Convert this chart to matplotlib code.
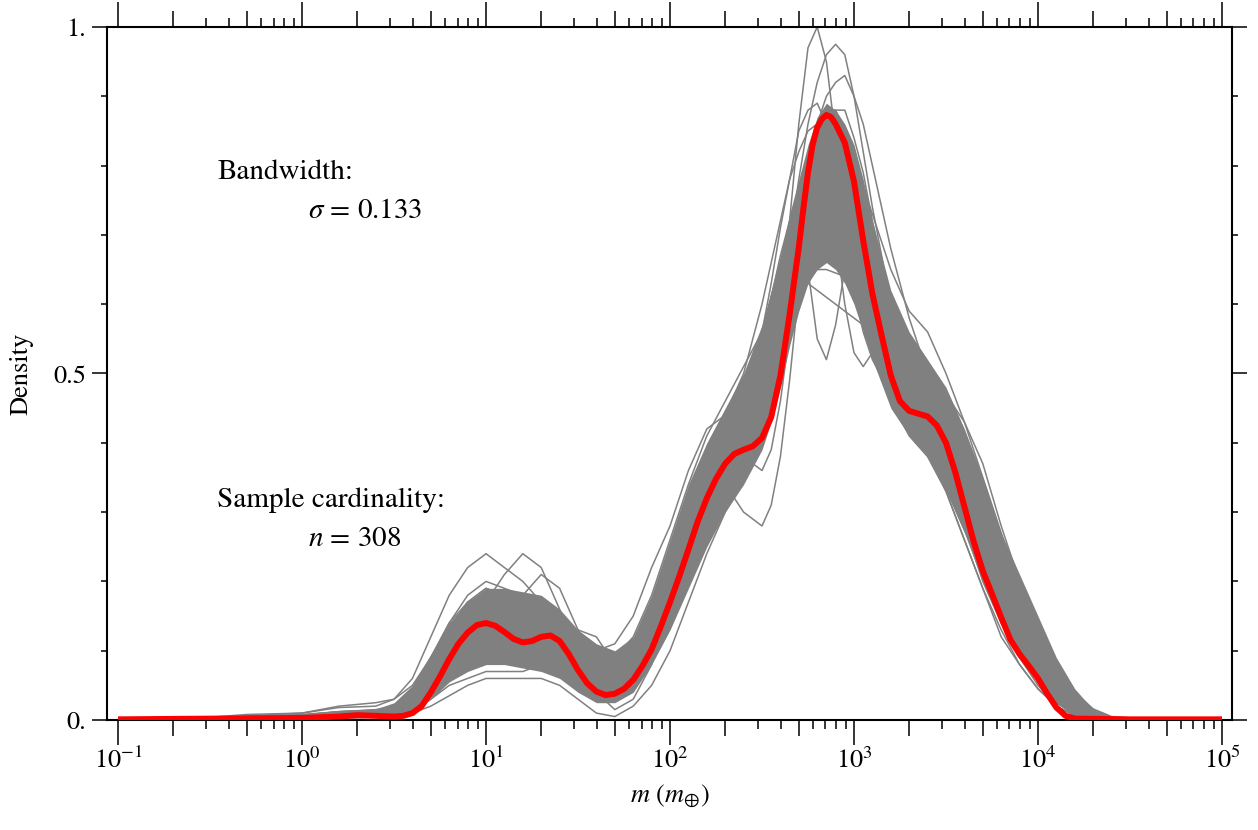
import numpy as np
import matplotlib
matplotlib.use("Agg")
import matplotlib.pyplot as plt
from matplotlib.ticker import FixedLocator, FuncFormatter

plt.rcParams['font.family'] = ['STIXGeneral', 'DejaVu Serif']
plt.rcParams['mathtext.fontset'] = 'stix'

# grid of log10(m) used for the resampled (grey) curves
log_m_grid = [-1.0, -0.5, -0.3, 0.0, 0.2, 0.4, 0.5, 0.6, 0.7, 0.8, 0.9, 1.0,
              1.1, 1.2, 1.3, 1.4, 1.5, 1.6, 1.7, 1.8, 1.9, 2.0, 2.1, 2.2,
              2.3, 2.4, 2.5,
              2.55, 2.6, 2.65, 2.7, 2.75, 2.8, 2.85, 2.9, 2.95, 3.0, 3.05, 3.1,
              3.2, 3.3, 3.4, 3.5, 3.6, 3.7, 3.8, 3.9, 4.0, 4.1, 4.2, 4.3, 4.4,
              4.6, 5.0]

# densest part of the grey bundle (lower / upper edge)
band_lower = [0, .001, .001, .002, .003, .004, .006, .012, .03, .055, .07, .08,
              .08, .075, .07, .06, .04, .025, .025, .04, .08, .13, .19, .25,
              .30, .34, .39,
              .43, .48, .54, .59, .63, .65, .66, .65, .63, .60, .56, .52,
              .45, .41, .38, .33, .27, .20, .14, .09, .055, .025, .008, .002, 0,
              0, 0]
band_upper = [.001, .005, .007, .009, .014, .016, .025, .05, .095, .14, .17, .19,
              .19, .185, .18, .16, .13, .11, .10, .12, .18, .26, .34, .40,
              .45, .50, .57,
              .62, .67, .73, .78, .83, .87, .89, .88, .86, .83, .78, .72,
              .62, .56, .52, .48, .42, .35, .27, .21, .15, .09, .045, .015, .004,
              0, 0]

# individual bootstrap density curves (grey)
boot_curves = [
    [0, .002, .003, .004, .006, .008, .012, .025, .06, .10, .13, .14, .13, .12, .12, .10, .07, .05, .05, .08, .13, .19, .26, .32, .36, .40, .46,
     .52, .60, .72, .86, .97, 1.0, .95, .84, .72, .62, .56, .52,
     .47, .44, .41, .36, .28, .20, .14, .09, .05, .02, .006, .002, 0, 0, 0],
    [0, .001, .002, .004, .008, .01, .015, .03, .07, .12, .16, .17, .15, .13, .12, .10, .08, .06, .06, .09, .14, .20, .25, .29, .32, .36, .45,
     .52, .60, .69, .78, .86, .92, .96, .975, .96, .90, .82, .74,
     .60, .52, .47, .41, .33, .25, .18, .12, .07, .035, .014, .004, .001, 0, 0],
    [0, .002, .004, .006, .01, .012, .02, .04, .08, .13, .17, .19, .18, .16, .14, .11, .08, .06, .07, .10, .16, .23, .30, .35, .38, .42, .50,
     .56, .62, .68, .75, .81, .86, .90, .92, .93, .90, .86, .80,
     .68, .58, .50, .45, .38, .30, .22, .15, .10, .06, .03, .012, .004, 0, 0],
    [0, .001, .002, .003, .005, .006, .008, .015, .04, .08, .11, .12, .11, .10, .10, .09, .06, .04, .04, .07, .12, .19, .27, .33, .34, .30, .28,
     .31, .38, .49, .62, .74, .82, .85, .84, .80, .74, .67, .60,
     .50, .45, .42, .37, .29, .21, .15, .10, .06, .025, .008, .002, 0, 0, 0],
    [0, .002, .003, .005, .008, .01, .015, .03, .07, .12, .15, .16, .15, .14, .13, .11, .08, .05, .05, .08, .14, .22, .30, .37, .42, .47, .55,
     .61, .67, .72, .72, .65, .55, .52, .57, .65, .71, .72, .69,
     .57, .48, .43, .39, .32, .24, .17, .11, .07, .035, .012, .003, .001, 0, 0],
    [0, .003, .005, .008, .012, .014, .02, .045, .09, .14, .18, .20, .19, .18, .16, .13, .10, .08, .08, .11, .17, .24, .31, .37, .42, .47, .53,
     .56, .59, .61, .63, .64, .65, .65, .645, .64, .62, .60, .58,
     .52, .48, .45, .41, .35, .28, .21, .15, .10, .06, .03, .012, .004, .001, 0],
    [0, .004, .008, .01, .018, .02, .03, .06, .12, .18, .22, .24, .22, .20, .17, .13, .09, .06, .06, .09, .15, .22, .29, .35, .40, .45, .52,
     .57, .62, .67, .72, .76, .78, .79, .785, .77, .75, .72, .67,
     .55, .49, .45, .41, .34, .26, .19, .13, .08, .04, .016, .005, .001, 0, 0],
    [0, .001, .002, .003, .006, .008, .01, .02, .05, .09, .13, .17, .21, .24, .22, .16, .09, .04, .015, .03, .08, .16, .25, .32, .37, .40, .45,
     .49, .55, .62, .70, .77, .82, .85, .86, .85, .80, .74, .67,
     .56, .49, .46, .42, .36, .27, .19, .13, .08, .04, .015, .004, .001, 0, 0],
    [0, .001, .001, .002, .003, .004, .006, .012, .03, .05, .06, .07, .07, .07, .08, .10, .13, .12, .08, .09, .14, .21, .28, .34, .38, .42, .48,
     .52, .58, .65, .72, .79, .84, .86, .865, .84, .79, .72, .65,
     .55, .49, .46, .40, .32, .24, .17, .11, .07, .035, .012, .003, .001, 0, 0],
    [0, .001, .002, .003, .005, .006, .01, .02, .05, .09, .12, .13, .12, .11, .11, .10, .07, .04, .03, .05, .09, .15, .22, .28, .33, .37, .43,
     .47, .52, .58, .64, .70, .76, .80, .82, .82, .80, .77, .73,
     .65, .59, .56, .50, .43, .35, .27, .19, .13, .08, .04, .016, .005, .001, 0],
    [0, .003, .006, .01, .02, .025, .03, .05, .09, .14, .17, .18, .16, .14, .13, .12, .11, .10, .11, .15, .22, .28, .36, .42, .44, .50, .60,
     .66, .72, .78, .82, .85, .86, .85, .82, .77, .70, .63, .57,
     .48, .43, .39, .33, .26, .19, .12, .08, .045, .02, .007, .002, 0, 0, 0],
    [0, .002, .004, .006, .01, .012, .016, .035, .075, .12, .15, .16, .15, .14, .14, .12, .09, .06, .05, .07, .12, .19, .27, .34, .39, .44, .52,
     .57, .62, .66, .70, .72, .74, .745, .74, .73, .70, .66, .62,
     .54, .48, .44, .40, .33, .26, .19, .13, .085, .045, .02, .006, .001, 0, 0],
    [0, .001, .002, .003, .005, .007, .01, .02, .045, .08, .11, .12, .11, .10, .11, .11, .08, .05, .04, .06, .11, .18, .26, .33, .38, .41, .48,
     .54, .62, .70, .76, .79, .80, .79, .76, .71, .66, .60, .55,
     .47, .43, .40, .36, .29, .22, .16, .11, .07, .035, .012, .003, 0, 0, 0],
    [0, .002, .003, .005, .008, .01, .014, .03, .065, .11, .14, .15, .14, .13, .12, .10, .07, .045, .04, .07, .12, .19, .27, .34, .40, .46, .56,
     .63, .71, .78, .85, .88, .89, .86, .81, .74, .66, .60, .54,
     .46, .41, .38, .33, .26, .19, .13, .08, .045, .02, .006, .001, 0, 0, 0],
    [0, .001, .001, .002, .003, .004, .005, .01, .02, .035, .05, .06, .06, .06, .06, .05, .03, .01, .005, .02, .05, .10, .17, .24, .30, .35, .42,
     .48, .55, .62, .70, .77, .82, .86, .88, .88, .84, .79, .72,
     .60, .52, .48, .44, .37, .29, .21, .14, .09, .05, .02, .006, .001, 0, 0],
    [0, .002, .003, .005, .008, .01, .014, .03, .065, .11, .14, .15, .14, .13, .13, .11, .08, .06, .06, .08, .13, .20, .27, .33, .37, .41, .48,
     .53, .58, .64, .70, .75, .80, .82, .825, .82, .78, .73, .68,
     .58, .52, .50, .47, .43, .37, .28, .20, .14, .08, .04, .015, .004, .001, 0],
    [0, .002, .003, .005, .008, .01, .013, .028, .06, .10, .13, .14, .13, .12, .12, .10, .08, .06, .05, .07, .11, .17, .24, .30, .35, .40, .47,
     .52, .56, .60, .64, .67, .69, .70, .70, .69, .67, .64, .60,
     .52, .46, .42, .38, .31, .24, .18, .12, .08, .04, .015, .004, .001, 0, 0],
    [0, .002, .003, .005, .008, .01, .014, .03, .06, .10, .13, .15, .16, .18, .21, .19, .13, .07, .04, .06, .12, .20, .28, .35, .40, .44, .50,
     .55, .60, .66, .72, .78, .82, .84, .84, .82, .77, .70, .63,
     .52, .47, .44, .40, .33, .25, .18, .12, .075, .04, .015, .004, .001, 0, 0],
    [0, .002, .003, .004, .006, .008, .012, .025, .055, .09, .12, .13, .12, .11, .11, .10, .08, .06, .05, .08, .13, .20, .28, .35, .40, .45, .52,
     .58, .64, .70, .75, .79, .80, .77, .70, .60, .53, .51, .53,
     .55, .50, .44, .38, .30, .22, .15, .10, .06, .03, .01, .003, 0, 0, 0],
    [0, .001, .002, .003, .005, .007, .01, .02, .05, .09, .12, .13, .12, .11, .11, .10, .07, .05, .05, .08, .14, .22, .30, .37, .41, .38, .36,
     .39, .46, .56, .67, .77, .84, .88, .88, .85, .78, .70, .62,
     .50, .45, .42, .37, .30, .22, .16, .10, .06, .025, .008, .002, 0, 0, 0],
    [0, .002, .004, .007, .012, .015, .02, .04, .08, .13, .17, .19, .18, .17, .16, .14, .11, .09, .09, .12, .18, .26, .34, .41, .46, .51, .56,
     .59, .61, .63, .635, .63, .62, .61, .60, .59, .58, .57, .55,
     .50, .46, .43, .39, .33, .26, .19, .13, .08, .045, .02, .007, .002, 0, 0],
]

# full-sample density (red)
log_m_red = [-1.0, -0.5, 0.0, 0.2, 0.3, 0.4, 0.5, 0.55, 0.6, 0.65, 0.7, 0.75,
             0.8, 0.85, 0.9, 0.95, 1.0, 1.05, 1.1, 1.15, 1.2, 1.25, 1.3, 1.35,
             1.4, 1.45, 1.5, 1.55, 1.6, 1.65, 1.7, 1.75, 1.8, 1.85, 1.9, 1.95,
             2.0, 2.05, 2.1, 2.15, 2.2, 2.25, 2.3, 2.35, 2.4, 2.45, 2.5, 2.55,
             2.6, 2.65, 2.7, 2.725, 2.75, 2.775, 2.8, 2.825, 2.85, 2.875, 2.9,
             2.95, 3.0, 3.05, 3.1, 3.15, 3.2, 3.25, 3.3, 3.35, 3.4, 3.45, 3.5,
             3.55, 3.6, 3.65, 3.7, 3.75, 3.8, 3.85, 3.9, 3.95, 4.0, 4.05, 4.1,
             4.15, 4.2, 4.5, 5.0]
density_red = [0.001, 0.002, 0.003, 0.005, 0.007, 0.006, 0.005, 0.006, 0.010, 0.020, 0.040, 0.063,
               0.088, 0.110, 0.126, 0.137, 0.140, 0.136, 0.127, 0.117, 0.112, 0.114, 0.120, 0.122,
               0.114, 0.095, 0.072, 0.053, 0.041, 0.036, 0.038, 0.045, 0.058, 0.078, 0.102, 0.135,
               0.170, 0.207, 0.246, 0.286, 0.320, 0.348, 0.370, 0.384, 0.390, 0.395, 0.407, 0.437,
               0.497, 0.585, 0.682, 0.738, 0.790, 0.830, 0.855, 0.867, 0.873, 0.870, 0.860,
               0.833, 0.777, 0.692, 0.615, 0.555, 0.497, 0.460, 0.446, 0.442, 0.438, 0.425, 0.400,
               0.358, 0.308, 0.258, 0.215, 0.182, 0.148, 0.116, 0.095, 0.078, 0.060, 0.038, 0.018,
               0.006, 0.002, 0.001, 0.001]

bandwidth = 0.133
n_sample = 308

fig = plt.figure(figsize=(12.58, 8.30), dpi=100)
ax = fig.add_axes([0.0851, 0.1325, 0.8942, 0.835])

m_grid = 10.0 ** np.array(log_m_grid)
ax.fill_between(m_grid, band_lower, band_upper, color='#808080', lw=0, zorder=1)
for curve in boot_curves:
    ax.plot(m_grid, curve, color='#808080', lw=1.1, zorder=2)
ax.plot(10.0 ** np.array(log_m_red), density_red, color='red', lw=4.3, zorder=3,
        solid_capstyle='butt', solid_joinstyle='round')

ax.set_xscale('log')
ax.set_xlim(10 ** -1.0598, 10 ** 5.0543)
ax.set_ylim(0, 1)

# x ticks: decades long, 2 and 5 medium, rest short
decades = [10.0 ** k for k in range(-1, 6)]
mid = [f * 10.0 ** k for k in range(-1, 5) for f in (2, 5)]
minor = [f * 10.0 ** k for k in range(-1, 5) for f in (3, 4, 6, 7, 8, 9)]
major_x = sorted(decades + mid)
ax.xaxis.set_major_locator(FixedLocator(major_x))
ax.xaxis.set_minor_locator(FixedLocator(minor))


def dec_fmt(v, pos):
    e = np.log10(v)
    if abs(e - round(e)) < 1e-6:
        return r'$10^{%d}$' % int(round(e))
    return ''


ax.xaxis.set_major_formatter(FuncFormatter(dec_fmt))
ax.xaxis.set_minor_formatter(FuncFormatter(lambda v, p: ''))

ax.yaxis.set_major_locator(FixedLocator([0, 0.5, 1.0]))
ax.yaxis.set_minor_locator(FixedLocator(np.arange(0.1, 1.0, 0.1)))
ax.set_yticklabels(['0.', '0.5', '1.'])

ax.tick_params(which='both', direction='out', top=True, right=True, width=1.1,
               labelsize=19, color='black')
ax.tick_params(axis='x', which='major', length=18, pad=2)
ax.tick_params(axis='x', which='minor', length=6.5)
ax.tick_params(axis='y', which='major', length=11, pad=4)
ax.tick_params(axis='y', which='minor', length=4.3)

for v, t in zip(major_x, ax.xaxis.get_major_ticks()):
    e = np.log10(v)
    if abs(e - round(e)) > 1e-6:
        t.tick1line.set_markersize(11.5)
        t.tick2line.set_markersize(11.5)

for s in ax.spines.values():
    s.set_linewidth(1.5)

ax.set_xlabel(r'$m$ ($m_{\oplus}$)', fontsize=19, labelpad=6)
ax.set_ylabel('Density', fontsize=19, labelpad=14)

ax.text(0.0978, 0.79, 'Bandwidth:', transform=ax.transAxes, fontsize=21, va='center')
ax.text(0.1787, 0.734, r'$\sigma$ = %.3f' % bandwidth, transform=ax.transAxes,
        fontsize=21, va='center')
ax.text(0.0978, 0.317, 'Sample cardinality:', transform=ax.transAxes, fontsize=21,
        va='center')
ax.text(0.1787, 0.26, r'$n$ = %d' % n_sample, transform=ax.transAxes, fontsize=21,
        va='center')

fig.savefig('out.png', dpi=100, facecolor='white')
